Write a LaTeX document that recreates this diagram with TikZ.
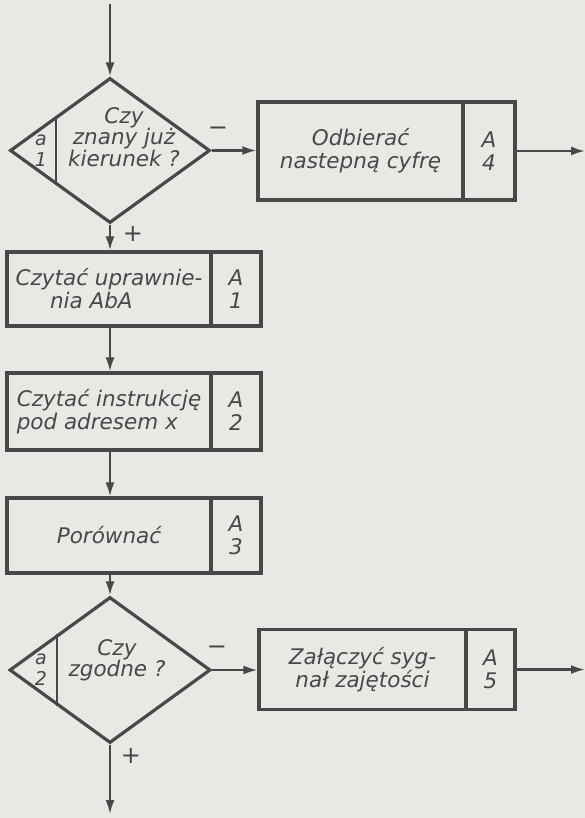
\documentclass[tikz,border=0pt]{standalone}
\usepackage{fontspec}
\setmainfont{DejaVu Sans}
\usetikzlibrary{shapes.geometric,arrows.meta,calc}
\definecolor{paper}{RGB}{232,232,229}
\definecolor{ink}{RGB}{72,72,72}
\begin{document}
\begin{tikzpicture}[x=1pt,y=-1pt,
  font=\fontsize{21.5}{23}\selectfont\itshape,
  every node/.style={text=ink},
  decis/.style={diamond,draw=ink,line width=3.2pt,inner sep=0pt,minimum width=200pt,minimum height=145pt},
  opbox/.style={rectangle,draw=ink,line width=3.2pt,inner sep=0pt,align=center},
  numbox/.style={rectangle,draw=ink,line width=3.2pt,inner sep=0pt,align=center},
  flow/.style={draw=ink,line width=2.2pt,-{Latex[length=14pt,width=9pt]}},
  dtext/.style={align=center,font=\fontsize{21.5}{19.5}\selectfont\itshape},
  idtext/.style={align=center,font=\fontsize{19}{21}\selectfont\itshape},
  sign/.style={font=\fontsize{24}{24}\selectfont}
]
\fill[paper] (0,0) rectangle (585,818);
\useasboundingbox (0,0) rectangle (585,818);

% decision 1
\node[decis] (d1) at (110,150.5) {};
\draw[ink,line width=2.6pt] ($(d1.west)!0.47!(d1.north)$) -- ($(d1.west)!0.47!(d1.south)$);
\node[dtext] (t1) at (124,137) {Czy\\znany już\\kierunek ?};
\node[idtext] (n1) at (41,151) {a\\1};

% box A4
\node[opbox,minimum width=205pt,minimum height=98pt] (b4) at (360.5,151) {Odbierać\\nastepną cyfrę};
\node[numbox,minimum width=52pt,minimum height=98pt] (b4n) at (489,151) {A\\4};

% box A1
\node[opbox,minimum width=204pt,minimum height=74pt,align=left] (b1) at (109,289) {Czytać uprawnie-\\\hspace*{1.6em}nia AbA};
\node[numbox,minimum width=50pt,minimum height=74pt] (b1n) at (236,289) {A\\1};

% box A2
\node[opbox,minimum width=204pt,minimum height=77pt,align=left] (b2) at (109,411.5) {Czytać instrukcję\\pod adresem x};
\node[numbox,minimum width=50pt,minimum height=77pt] (b2n) at (236,411.5) {A\\2};

% box A3
\node[opbox,minimum width=204pt,minimum height=75pt] (b3) at (109,535.5) {Porównać};
\node[numbox,minimum width=50pt,minimum height=75pt] (b3n) at (236,535.5) {A\\3};

% decision 2
\node[decis,minimum width=201pt,minimum height=146pt] (d2) at (110,670) {};
\draw[ink,line width=2.6pt] ($(d2.west)!0.48!(d2.north)$) -- ($(d2.west)!0.48!(d2.south)$);
\node[dtext,font=\fontsize{21.5}{21}\selectfont\itshape] (t2) at (117,660) {Czy\\zgodne ?};
\node[idtext] (n2) at (41,670) {a\\2};

% box A5
\node[opbox,minimum width=207pt,minimum height=80pt] (b5) at (362.5,669.5) {Załączyć syg-\\nał zajętości};
\node[numbox,minimum width=49pt,minimum height=80pt] (b5n) at (490.5,669.5) {A\\5};

% connectors
\coordinate (in) at (110,4);
\coordinate (out1) at (585,151);
\coordinate (out2) at (585,669.5);
\coordinate (out3) at (110,814);
\draw[flow] (in) -- (d1.north);
\draw[flow] (d1.east) -- (d1.east -| b4.west);
\draw[flow] (b4n.east) -- (out1);
\draw[flow] (d1.south) -- (d1.south |- b1.north);
\draw[flow] (d1.south |- b1.south) -- (d1.south |- b2.north);
\draw[flow] (d1.south |- b2.south) -- (d1.south |- b3.north);
\draw[flow] (d1.south |- b3.south) -- (d2.north);
\draw[flow] (d2.east) -- (d2.east -| b5.west);
\draw[flow] (b5n.east) -- (out2);
\draw[flow] (d2.south) -- (out3);

% signs
\node[sign] (m1) at (218,131) {−};
\node[sign] (p1) at (133,234) {+};
\node[sign] (m2) at (217,650) {−};
\node[sign] (p2) at (131,756) {+};
\end{tikzpicture}
\end{document}
